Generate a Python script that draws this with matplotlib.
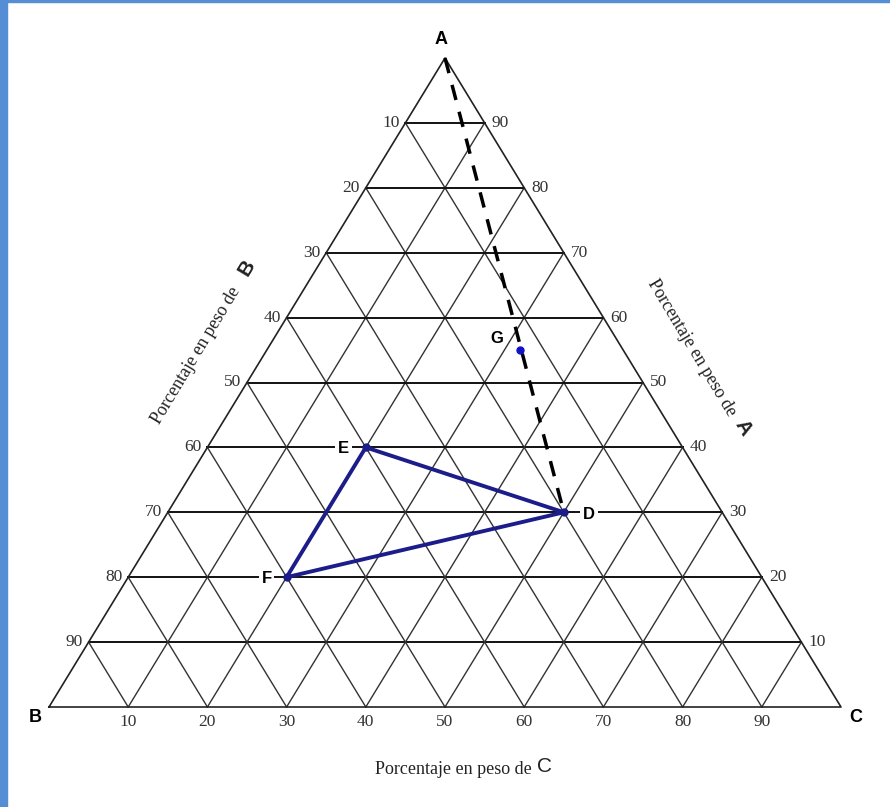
import matplotlib.pyplot as plt
from matplotlib.patches import Rectangle

# compositions in weight percent (A, B, C)
point_names = ["D", "E", "F"]
point_a = [30, 40, 20]
point_b = [20, 40, 60]
point_c = [50, 20, 20]

g_name = "G"
g_a, g_b, g_c = 55, 13, 32

grid_levels = [10, 20, 30, 40, 50, 60, 70, 80, 90]
title_text = "Porcentaje en peso de"

# triangle corners in pixels (B bottom-left, C bottom-right, apex A)
X0, X1 = 49, 841
Y_BASE, Y_TOP = 707, 58
W = X1 - X0
H = Y_BASE - Y_TOP


def tern(a, b, c):
    s = a + b + c
    a, c = a / s, c / s
    return X0 + W * (c + a / 2), Y_BASE - H * a


fig = plt.figure(figsize=(8.9, 8.07), dpi=100)
ax = fig.add_axes([0, 0, 1, 1])
ax.set_xlim(0, 890)
ax.set_ylim(807, 0)
ax.axis("off")

fig.patches.append(Rectangle((0, 0), 7 / 890, 1, transform=fig.transFigure,
                             color="#558ed5", zorder=0))
fig.patches.append(Rectangle((0, 1 - 2 / 807), 1, 2 / 807, transform=fig.transFigure,
                             color="#558ed5", zorder=0))

serif = "Liberation Serif"
sans = "Liberation Sans"
tick_fs = 12.5
title_fs = 13

# outline
xs, ys = zip(*[tern(0, 100, 0), tern(0, 0, 100), tern(100, 0, 0), tern(0, 100, 0)])
ax.plot(xs, ys, color="#222222", lw=1.2)

for k in grid_levels:
    # constant A (horizontal)
    p1 = tern(k, 100 - k, 0)
    p2 = tern(k, 0, 100 - k)
    ax.plot([p1[0], p2[0]], [p1[1], p2[1]], color="#111111", lw=1.4, zorder=1)
    # constant C
    p1 = tern(0, 100 - k, k)
    p2 = tern(100 - k, 0, k)
    ax.plot([p1[0], p2[0]], [p1[1], p2[1]], color="#333333", lw=1.0, zorder=1)
    # constant B
    p1 = tern(0, k, 100 - k)
    p2 = tern(100 - k, k, 0)
    ax.plot([p1[0], p2[0]], [p1[1], p2[1]], color="#333333", lw=1.0, zorder=1)

# tick labels
for k in grid_levels:
    lx, ly = tern(100 - k, k, 0)
    ax.text(lx - 6, ly, str(k), ha="right", va="center", family=serif,
            fontsize=tick_fs, color="#333333")
    rx, ry = tern(k, 0, 100 - k)
    ax.text(rx + 7, ry, str(k), ha="left", va="center", family=serif,
            fontsize=tick_fs, color="#333333")
    bx, by = tern(0, 100 - k, k)
    ax.text(bx, by + 15, str(k), ha="center", va="center", family=serif,
            fontsize=tick_fs, color="#333333")

# vertex labels
ax.text(441, 40, "A", ha="center", va="center", family=sans, fontsize=13, fontweight="bold")
ax.text(35, 718, "B", ha="center", va="center", family=sans, fontsize=13, fontweight="bold")
ax.text(856, 718, "C", ha="center", va="center", family=sans, fontsize=13, fontweight="bold")

# axis titles
ax.text(532, 769, title_text, ha="right", va="center", family=serif, fontsize=title_fs,
        color="#222222")
ax.text(537, 767, "C", ha="left", va="center", family=sans, fontsize=15, color="#222222")

ax.text(196, 355, title_text, ha="center", va="center", family=serif,
        fontsize=title_fs, rotation=59, rotation_mode="anchor", color="#222222")
ax.text(247, 268, "B", ha="center", va="center", family=sans, fontsize=15,
        fontweight="bold", rotation=59, rotation_mode="anchor", color="#222222")

ax.text(692, 348, title_text, ha="center", va="center", family=serif,
        fontsize=title_fs, rotation=-59, rotation_mode="anchor", color="#222222")
ax.text(743, 428, "A", ha="center", va="center", family=sans, fontsize=15,
        fontweight="bold", rotation=-59, rotation_mode="anchor", color="#222222")

# dashed line from A vertex to D
ax_pt = tern(100, 0, 0)
d_pt = tern(point_a[0], point_b[0], point_c[0])
ax.plot([ax_pt[0], d_pt[0]], [ax_pt[1], d_pt[1]], color="black", lw=2.5,
        dashes=(4.5, 3.5), zorder=3)

# triangle DEF
pts = [tern(a, b, c) for a, b, c in zip(point_a, point_b, point_c)]
px = [p[0] for p in pts] + [pts[0][0]]
py = [p[1] for p in pts] + [pts[0][1]]
ax.plot(px, py, color="#1c1c8a", lw=2.8, zorder=4)
ax.plot(px[:-1], py[:-1], "o", color="#1c1c8a", ms=5, zorder=5)

offsets = {"D": (25, 2), "E": (-22, 1), "F": (-20, 1)}
for name, (x, y) in zip(point_names, pts):
    dx, dy = offsets[name]
    ax.text(x + dx, y + dy, name, ha="center", va="center", family=sans, fontsize=12,
            fontweight="bold", zorder=6,
            bbox=dict(facecolor="white", edgecolor="none", pad=2))

gx, gy = tern(g_a, g_b, g_c)
ax.plot(gx, gy, marker="o", color="#1010c8", ms=5, zorder=5)
ax.text(gx - 23, gy - 12, g_name, ha="center", va="center", family=sans, fontsize=12,
        fontweight="bold", zorder=6)

fig.savefig("out.png", dpi=100, facecolor="white")
